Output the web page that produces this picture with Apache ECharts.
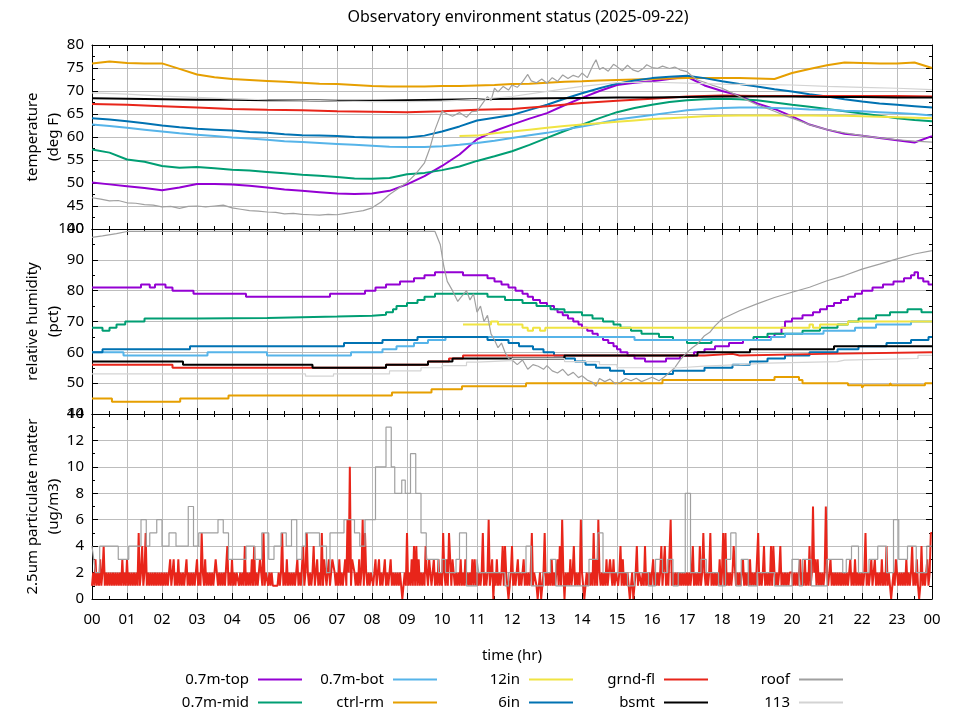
<!DOCTYPE html>
<html><head><meta charset="utf-8">
<script src="https://cdn.jsdelivr.net/npm/echarts@6/dist/echarts.min.js"></script>
<style>html,body{margin:0;padding:0;background:#fff}#c{width:960px;height:720px}</style>
</head><body><div id="c"></div><script>
// ---------------- DATA ----------------
const titleText = 'Observatory environment status (2025-09-22)';
const seriesNames  = ['0.7m-top','0.7m-mid','0.7m-bot','ctrl-rm','12in','6in','grnd-fl','bsmt','roof','113'];
const seriesColors = ['#9400d3','#009e73','#56b4e9','#e69f00','#f0e442','#0072b2','#e8251a','#000000','#a0a0a0','#d3d3d3'];
const seriesWidths = [2,2,2,2,2,2,2,2,1.2,1.2];

// temperature (deg F), half-hour readings 0..24
const halfHours = [0,0.5,1,1.5,2,2.5,3,3.5,4,4.5,5,5.5,6,6.5,7,7.5,8,8.5,9,9.5,10,10.5,11,11.5,12,12.5,13,13.5,14,14.5,15,15.5,16,16.5,17,17.5,18,18.5,19,19.5,20,20.5,21,21.5,22,22.5,23,23.5,24];
const tempTop  = [50.1,49.7,49.3,48.9,48.4,49.0,49.8,49.8,49.7,49.4,49.0,48.6,48.3,48.0,47.7,47.6,47.7,48.3,49.7,51.5,53.7,56.2,59.5,61.3,62.7,64.0,65.2,66.9,68.5,70.0,71.3,71.8,72.1,72.6,73.1,71.2,70.0,69.0,67.3,66.1,64.5,62.7,61.6,60.7,60.3,59.8,59.3,58.8,60.2];
const tempMid  = [57.3,56.6,55.1,54.6,53.7,53.3,53.5,53.2,52.9,52.7,52.4,52.1,51.8,51.6,51.3,51.0,50.9,51.1,51.9,52.2,52.8,53.6,54.8,55.8,56.9,58.3,59.8,61.3,62.7,64.1,65.4,66.3,67.0,67.6,68.0,68.2,68.3,68.2,68.0,67.5,67.0,66.6,66.1,65.6,65.1,64.6,64.1,63.7,63.4];
const tempBot  = [62.7,62.4,62.0,61.6,61.2,60.8,60.5,60.2,59.9,59.7,59.4,59.1,58.9,58.7,58.5,58.3,58.1,57.9,57.8,57.8,58.0,58.3,58.7,59.2,59.8,60.4,60.9,61.6,62.3,63.0,63.8,64.3,64.8,65.3,65.8,66.1,66.3,66.4,66.4,66.3,66.2,66.0,65.9,65.7,65.6,65.4,65.2,65.0,64.7];
const tempCtrl = [76.0,76.4,76.1,76.0,76.0,74.8,73.6,73.0,72.6,72.4,72.2,72.0,71.8,71.6,71.5,71.3,71.1,71.0,71.0,71.0,71.1,71.1,71.2,71.3,71.5,71.6,71.8,72.0,72.1,72.3,72.4,72.5,72.6,72.7,72.8,72.8,72.8,72.8,72.7,72.6,73.9,74.8,75.6,76.2,76.1,76.0,76.0,76.2,75.0];
const temp12in = [null,null,null,null,null,null,null,null,null,null,null,null,null,null,null,null,null,null,null,null,null,60.2,60.3,60.8,61.2,61.6,62.0,62.4,62.7,63.0,63.3,63.6,63.9,64.1,64.3,64.5,64.6,64.7,64.7,64.7,64.7,64.7,64.6,64.6,64.5,64.4,64.3,64.2,64.1];
const temp6in  = [64.1,63.8,63.4,63.0,62.5,62.1,61.8,61.6,61.4,61.1,60.9,60.6,60.4,60.3,60.2,60.0,59.9,59.9,59.9,60.3,61.2,62.3,63.6,64.2,64.8,65.9,67.0,68.3,69.5,70.6,71.6,72.3,72.8,73.1,73.3,72.8,72.1,71.5,71.0,70.4,69.9,69.3,68.8,68.2,67.7,67.3,67.0,66.7,66.4];
// hourly readings 0..24
const hours = [0,1,2,3,4,5,6,7,8,9,10,11,12,13,14,15,16,17,18,19,20,21,22,23,24];
const tempGrnd = [67.2,67.0,66.7,66.4,66.1,65.9,65.8,65.6,65.5,65.4,65.6,65.9,66.1,66.7,67.4,67.9,68.3,68.8,69.0,68.9,68.9,68.9,68.9,68.9,68.8];
const tempBsmt = [68.4,68.3,68.2,68.1,68.1,68.0,68.0,67.9,67.9,68.0,68.1,68.2,68.3,68.4,68.5,68.6,68.6,68.7,68.8,68.8,68.8,68.7,68.7,68.6,68.6];
const temp113  = [69.6,69.3,68.9,68.6,68.3,68.1,68.0,67.8,67.7,67.7,67.8,68.2,68.8,69.9,71.0,71.8,71.9,71.7,71.5,71.4,71.3,71.0,70.8,70.6,70.3];
// roof temperature [hour, degF]
const tempRoof = [[0,46.8],[0.25,46.5],[0.5,46.1],[0.75,46.2],[1,45.7],[1.25,45.6],[1.5,45.3],[1.75,45.2],[2,44.8],[2.25,44.9],[2.5,44.5],[2.75,44.9],[3,45.0],[3.25,44.8],[3.5,45.0],[3.75,45.2],[4,44.6],[4.25,44.3],[4.5,44.0],[4.75,43.9],[5,43.7],[5.25,43.6],[5.5,43.3],[5.75,43.4],[6,43.2],[6.25,43.1],[6.5,43.0],[6.75,43.2],[7,43.1],[7.25,43.4],[7.5,43.7],[7.75,44.0],[8,44.6],[8.25,45.8],[8.5,47.5],[8.75,48.8],[9,50.1],[9.25,52.0],[9.5,54.4],[9.65,57.5],[9.8,61.6],[10,65.6],[10.15,65.0],[10.3,64.5],[10.5,65.3],[10.7,64.3],[10.85,65.5],[11,65.6],[11.15,67.2],[11.3,68.8],[11.4,67.9],[11.5,70.6],[11.6,69.8],[11.75,71.0],[11.9,70.2],[12,71.3],[12.15,70.8],[12.3,72.0],[12.45,73.6],[12.55,72.2],[12.7,71.8],[12.85,72.6],[13,71.7],[13.15,72.9],[13.3,72.1],[13.45,73.5],[13.6,72.7],[13.75,73.4],[13.9,73.0],[14,73.9],[14.15,72.9],[14.3,75.4],[14.4,76.8],[14.5,74.7],[14.6,75.1],[14.75,74.3],[14.9,75.8],[15,75.3],[15.15,74.4],[15.3,75.6],[15.45,74.6],[15.6,74.2],[15.75,74.9],[15.85,75.7],[16,75.1],[16.15,74.9],[16.3,75.4],[16.5,74.9],[16.65,75.2],[16.8,74.6],[17,74.2],[17.15,73.2],[17.3,72.4],[17.5,71.9],[17.75,71.2],[18,70.6],[18.25,69.7],[18.5,68.8],[18.75,67.9],[19,67.0],[19.25,66.3],[19.5,65.6],[19.75,64.8],[20,64.1],[20.5,62.7],[21,61.6],[21.5,60.9],[22,60.3],[22.5,59.8],[23,59.4],[23.5,59.1],[24,58.9]];

// relative humidity (pct): [hour when reading changes, new reading]
const humTop  = [[0,81],[1.4,82],[1.65,81],[1.8,82],[2.1,81],[2.3,80],[2.9,79],[4.4,78],[6.8,79],[7.8,80],[8.1,81],[8.4,82],[8.8,83],[9.2,84],[9.5,85],[9.8,86],[10.6,85],[11.3,84],[11.5,83],[11.7,82],[11.9,81],[12.1,80],[12.3,79],[12.45,78],[12.6,77],[12.8,76],[13.0,75],[13.2,74],[13.3,73],[13.45,72],[13.6,71],[13.75,70],[13.9,69],[14.0,68],[14.15,67],[14.3,66],[14.45,65],[14.6,64],[14.75,63],[14.9,62],[15.0,61],[15.1,60],[15.3,59],[15.5,58],[15.8,57],[16.4,58],[16.8,59],[17.2,60],[17.5,61],[17.8,62],[18.2,63],[18.6,64],[19.0,65],[19.5,66],[19.7,68],[19.8,70],[20.0,71],[20.3,72],[20.6,73],[20.8,74],[21.0,75],[21.2,76],[21.4,77],[21.6,78],[21.8,79],[22.0,80],[22.3,81],[22.6,82],[22.9,83],[23.2,84],[23.4,85],[23.5,86],[23.6,84],[23.75,83],[23.9,82],[24,82]];
const humMid  = [[0,68],[0.3,67],[0.5,68],[0.7,69],[0.95,70],[1.5,71],[3,71.1],[5,71.6],[7,71.9],[8,72.2],[8.4,73],[8.6,74],[8.7,75],[9.0,76],[9.3,77],[9.5,78],[9.8,79],[11.3,78],[11.8,77],[12.3,76],[12.7,75],[13.1,74],[13.5,73],[14.0,72],[14.3,71],[14.6,70],[14.9,69],[15.1,68],[15.4,67],[15.7,66],[16.2,65],[16.6,64],[17.0,63],[17.7,64],[18.9,65],[19.3,66],[20.3,67],[20.8,68],[21.3,69],[21.6,70],[21.9,71],[22.4,72],[22.8,73],[23.3,74],[23.7,73],[24,73]];
const humBot  = [[0,60],[0.9,59],[3.3,60],[5.0,59],[7.4,60],[8.3,61],[8.7,62],[9.2,63],[9.6,64],[10.1,65],[15.5,64],[19.4,65],[19.8,66],[20.9,67],[21.8,68],[22.4,69],[23.4,70],[24,70]];
const humCtrl = [[0,45],[0.57,44],[2.52,45],[3.9,46],[8.57,47],[9.7,48],[10.57,49],[12.4,50],[16.3,51],[19.5,52],[20.2,51],[20.3,50],[21.6,49.3],[22.0,48.5],[22.05,49.3],[22.8,50],[22.85,49.3],[23.8,50],[24,50]];
const hum12in = [[10.6,69],[11.4,70],[11.6,69],[12.3,68],[12.45,67],[12.6,68],[12.8,67],[12.95,68],[20.5,69],[20.6,68],[20.8,69],[21.6,70],[24,70]];
const hum6in  = [[0,60],[0.3,61],[2.8,62],[7.2,63],[8.3,64],[9.3,65],[11.3,64],[11.9,63],[12.2,62],[12.6,61],[12.9,60],[13.2,59],[13.5,58],[13.8,57],[14.1,56],[14.4,55],[14.8,54],[15.2,53],[16.6,54],[17.5,55],[18.3,56],[18.8,57],[19.3,58],[19.8,59],[20.5,60],[21.3,61],[21.9,62],[22.7,63],[23.4,64],[23.9,65],[24,65]];
const humGrnd = [[0,56],[2.3,55],[8.4,56],[9.6,57],[10.2,58],[10.6,59],[17.5,59.5],[18.3,59],[18.5,59.5],[20.9,60],[24,60]];
const humBsmt = [[0,57],[2.6,56],[6.3,55],[8.4,56],[9.6,57],[10.3,58],[13.5,59],[17.3,60],[18.8,61],[21.2,62],[24,62]];
const hum113  = [[0,53],[6.1,52.3],[6.9,53],[8.5,54],[9.4,55],[10.0,55.7],[10.7,56.8],[11.0,57.3],[12.0,58],[13.5,57],[14.5,56],[15.0,55],[16.8,55.5],[17.5,56],[18.5,56.5],[19.3,57],[21.3,57.5],[21.5,58],[23.6,59],[24,59]];
const humRoof = [[0,97.3],[0.3,97.8],[0.7,98.5],[1.0,99.2],[9.8,99.2],[9.95,95],[10.05,88],[10.15,83],[10.3,80],[10.45,76.5],[10.55,78],[10.7,80],[10.8,77],[10.9,79],[11.0,73],[11.1,75],[11.2,70],[11.3,72],[11.4,66],[11.5,64],[11.6,61.5],[11.7,63],[11.8,60],[11.9,58],[12.0,57.5],[12.15,56],[12.3,57.5],[12.45,54.5],[12.6,56],[12.75,55.5],[12.9,54.5],[13.0,55.7],[13.15,54],[13.3,53.3],[13.45,54.5],[13.6,52.5],[13.75,53.5],[13.9,51.8],[14.0,52.4],[14.15,51],[14.3,50.3],[14.4,49],[14.5,51.5],[14.65,50.5],[14.8,51.3],[14.95,49.8],[15.1,50.3],[15.25,51.5],[15.4,50.8],[15.55,51.6],[15.7,50.5],[15.85,51.2],[16.0,51.9],[16.2,50.8],[16.35,52],[16.5,53.5],[16.65,55],[16.8,57.5],[17.0,60],[17.15,61.5],[17.3,62.7],[17.5,65.4],[17.65,66.5],[17.8,68.6],[18.0,70.8],[18.5,73.5],[19.0,75.7],[19.5,77.8],[20.0,79.5],[20.5,81.1],[21.0,83.2],[21.5,84.9],[22.0,87],[22.5,88.6],[23.0,90.3],[23.5,91.9],[24.0,93]];

// PM2.5 (ug/m3): roof, [hour when reading changes, new reading]
const pmRoof = [[0,4],[0.05,3],[0.1,2],[0.22,4],[0.75,3],[1.05,4],[1.4,6],[1.55,4],[1.65,5],[1.85,6],[2.0,4],[2.2,5],[2.4,4],[2.75,7],[2.9,4],[3.05,5],[3.6,6],[3.75,5],[3.9,3],[4.4,4],[4.65,3],[4.85,5],[5.05,3],[5.2,4],[5.4,5],[5.55,4],[5.7,6],[5.85,3],[6.0,4],[6.1,5],[6.5,4],[6.7,2],[6.8,5],[7.2,6],[7.5,5],[7.65,4],[7.8,6],[8.1,10],[8.4,13],[8.55,10],[8.65,8],[8.85,9],[8.95,8],[9.1,11],[9.25,8],[9.4,5],[9.55,3],[9.9,2],[10.0,3],[10.1,2],[10.4,3],[10.5,5],[10.7,1],[11.0,3],[11.05,2],[11.8,1],[11.9,2],[12.4,4],[12.55,1],[12.9,2],[13.1,3],[13.25,1],[14.2,3],[14.45,5],[14.6,2],[15.3,1],[15.5,2],[15.9,1],[16.1,3],[16.3,2],[16.45,3],[16.6,1],[16.75,2],[16.95,8],[17.1,2],[17.4,3],[17.55,2],[17.9,1],[18.1,3],[18.25,5],[18.4,1],[18.55,3],[18.75,1],[19.0,2],[19.5,1],[20.0,3],[20.2,1],[20.3,3],[20.55,1],[21.0,3],[21.45,2],[21.55,3],[21.7,4],[21.9,2],[22.2,3],[22.45,4],[22.7,2],[22.9,6],[23.05,3],[23.3,4],[23.55,2],[23.85,4],[24,4]];
// PM2.5 grnd-fl: 30 two-minute readings per hour (A = 10)
const pmGrndByHour = [
 "12131 21312 41212 12121 21212 13121",
 "31212 12121 51241 25121 21212 12121",
 "21212 12312 31213 12121 13121 21212",
 "31215 21312 12121 23312 12121 14121",
 "31212 21212 14121 21314 12123 21512",
 "21212 11111 21251 21312 12121 23121",
 "14125 21212 41231 21513 21231 13321",
 "21312 12316 2A133 21213 12615 21212",
 "21231 13121 13121 13121 21212 10121",
 "51213 14141 31212 14213 21231 21312",
 "15213 15513 21212 13121 31212 13131",
 "21212 51212 61230 21312 12414 21012",
 "41212 31212 31212 12512 21012 01251",
 "21213 12123 14162 02121 31241 21216",
 "21012 12121 51316 21212 13123 21312",
 "21241 31212 10120 12412 21214 12121",
 "13121 21241 14121 16121 21212 12121",
 "21212 41212 14125 21212 51212 12131",
 "25151 21212 44121 21231 21213 12121",
 "15121 24121 21414 21212 41212 12122",
 "21212 12312 13121 41272 31312 12127",
 "21231 21212 12121 21212 31213 12121",
 "21251 21231 13121 21312 14121 01213",
 "21212 12131 21241 21310 14121 13125"
];
const pmGrndLast = 5;

// ---------------- BUILD ----------------
const FONT = "'Noto Sans', 'DejaVu Sans', sans-serif";
const TXT = '#000';
const pairs = (xs, ys) => xs.map((x, i) => [x, ys[i]]).filter(p => p[1] !== null);
const pmGrnd = [];
pmGrndByHour.forEach((s, h) => {
  const d = s.replace(/\s/g, '');
  for (let i = 0; i < d.length; i++) pmGrnd.push([h + i / d.length, d[i] === 'A' ? 10 : Number(d[i])]);
});
pmGrnd.push([24, pmGrndLast]);

const panels = [
  {top:45, height:184, min:40, max:80, interval:5, name:'temperature\n(deg F)'},
  {top:229, height:185, min:40, max:100, interval:10, name:'relative humidity\n(pct)'},
  {top:414, height:185, min:0, max:14, interval:2, name:'2.5um particulate matter\n(ug/m3)'}
];

const grids = panels.map(p => ({left:92, right:28, top:p.top, height:p.height, containLabel:false, outerBoundsMode:'none', show:false}));
const xAxes = [], yAxes = [];
panels.forEach((p, gi) => {
  ['bottom','top'].forEach(pos => {
    const primary = pos === 'bottom';
    const lab = primary && gi === 2;
    xAxes.push({
      type:'value', gridIndex:gi, position:pos, min:0, max:24, interval:1,
      axisLine:{show:true, onZero:false, lineStyle:{color:'#000', width:1}},
      axisTick:{show:true, inside:true, length:6, lineStyle:{color:'#000', width:1}},
      minorTick:{show:true, splitNumber:2, length:3, lineStyle:{color:'#000', width:1}},
      axisLabel:{show:lab, margin:13, fontSize:15, color:TXT, fontFamily:FONT,
        formatter: v => String(Math.round(v) % 24).padStart(2, '0')},
      splitLine:{show:primary, lineStyle:{color:'#bdbdbd', width:1}},
      minorSplitLine:{show:false},
      name: lab ? 'time (hr)' : '', nameLocation:'middle', nameGap:49, nameMoveOverlap:false,
      nameTextStyle:{fontSize:15, color:TXT, fontFamily:FONT}
    });
  });
  ['left','right'].forEach(pos => {
    const primary = pos === 'left';
    yAxes.push({
      type:'value', gridIndex:gi, position:pos, min:p.min, max:p.max, interval:p.interval,
      axisLine:{show:true, onZero:false, lineStyle:{color:'#000', width:1}},
      axisTick:{show:true, inside:true, length:6, lineStyle:{color:'#000', width:1}},
      minorTick:{show:true, splitNumber:2, length:3, lineStyle:{color:'#000', width:1}},
      axisLabel:{show:primary, margin:8, fontSize:15, color:TXT, fontFamily:FONT},
      splitLine:{show:primary, lineStyle:{color:'#bdbdbd', width:1}},
      name: primary ? p.name : '', nameLocation:'middle', nameGap:28, nameMoveOverlap:false,
      nameTextStyle:{fontSize:15, color:TXT, fontFamily:FONT, lineHeight:21}
    });
  });
});

function line(name, gi, data, step) {
  const k = seriesNames.indexOf(name);
  return {
    type:'line', name, xAxisIndex:2*gi, yAxisIndex:2*gi, data,
    step: step || false, symbol:'none', showSymbol:false, animation:false,
    lineStyle:{color:seriesColors[k], width:seriesWidths[k]},
    itemStyle:{color:seriesColors[k]},
    emphasis:{disabled:true}, silent:true
  };
}

const series = [
  line('0.7m-top', 0, pairs(halfHours, tempTop)),
  line('0.7m-mid', 0, pairs(halfHours, tempMid)),
  line('0.7m-bot', 0, pairs(halfHours, tempBot)),
  line('ctrl-rm', 0, pairs(halfHours, tempCtrl)),
  line('12in', 0, pairs(halfHours, temp12in)),
  line('6in', 0, pairs(halfHours, temp6in)),
  line('grnd-fl', 0, pairs(hours, tempGrnd)),
  line('bsmt', 0, pairs(hours, tempBsmt)),
  line('roof', 0, tempRoof),
  line('113', 0, pairs(hours, temp113)),

  line('0.7m-top', 1, humTop, 'end'),
  line('0.7m-mid', 1, humMid, 'end'),
  line('0.7m-bot', 1, humBot, 'end'),
  line('ctrl-rm', 1, humCtrl, 'end'),
  line('12in', 1, hum12in, 'end'),
  line('6in', 1, hum6in, 'end'),
  line('grnd-fl', 1, humGrnd, 'end'),
  line('bsmt', 1, humBsmt, 'end'),
  line('roof', 1, humRoof),
  line('113', 1, hum113, 'end'),

  line('grnd-fl', 2, pmGrnd),
  line('roof', 2, pmRoof, 'end')
];
series[20].lineStyle.width = 2;

const legendCols = [['0.7m-top','0.7m-mid'],['0.7m-bot','ctrl-rm'],['12in','6in'],['grnd-fl','bsmt'],['roof','113']];
const legendRight = [658, 523, 387, 252, 117];
const legends = legendCols.map((d, i) => ({
  data:d, orient:'vertical', align:'right', right:legendRight[i], top:672,
  itemWidth:44, itemHeight:2, itemGap:8, icon:'rect', padding:0, selectedMode:false,
  textStyle:{fontSize:15, color:TXT, fontFamily:FONT, lineHeight:14, padding:[0,4,0,0]}
}));

const chart = echarts.init(document.getElementById('c'), null, {renderer:'canvas', width:960, height:720});
chart.setOption({
  animation:false,
  backgroundColor:'#fff',
  title:{text:titleText, left:513, textAlign:'center', top:4,
    textStyle:{fontSize:16, fontWeight:'normal', color:TXT, fontFamily:FONT}},
  grid:grids, xAxis:xAxes, yAxis:yAxes, legend:legends, series
});
</script></body></html>
